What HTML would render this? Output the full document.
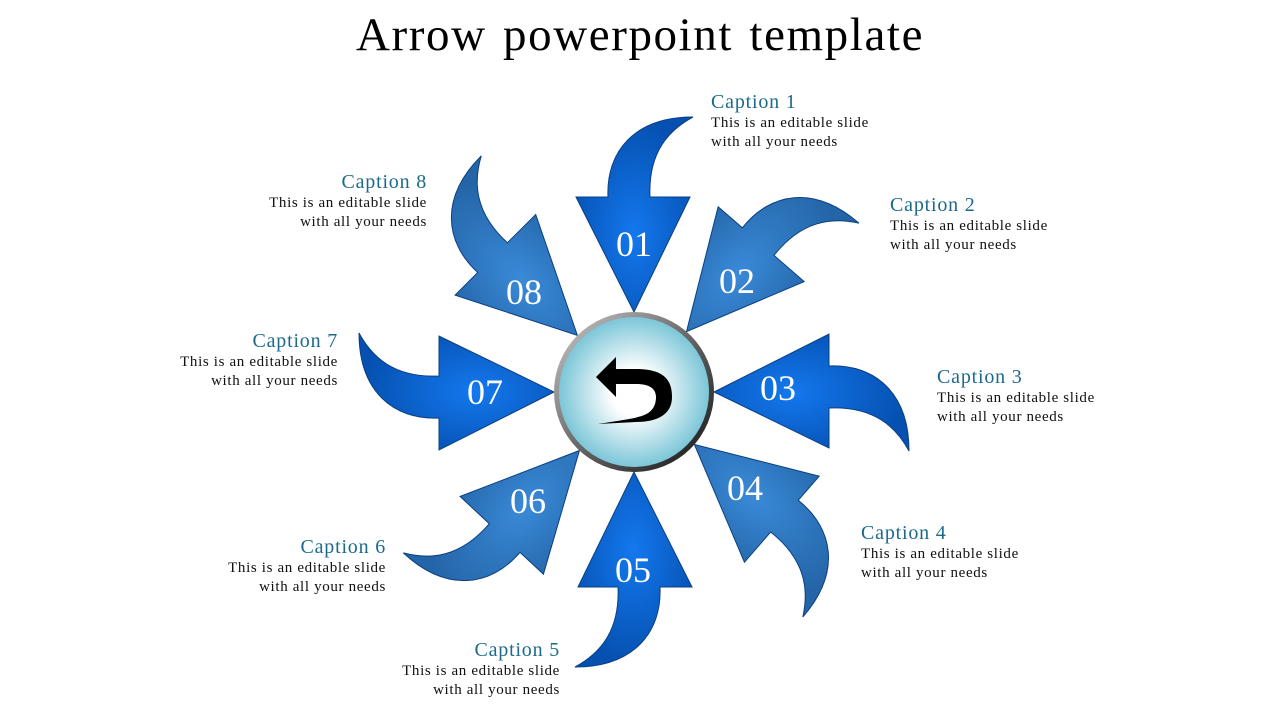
<!DOCTYPE html>
<html><head><meta charset="utf-8"><style>
body{margin:0;width:1280px;height:720px;background:#fff;overflow:hidden;position:relative;font-family:"Liberation Serif",serif}
.t{position:absolute;top:8px;width:1280px;text-align:center;font-size:47px;color:#000;letter-spacing:1.6px;word-spacing:3px}
.c{position:absolute;width:240px}
.c b{display:block;font-weight:normal;color:#1b6a8c;font-size:20px;line-height:24px;letter-spacing:0.8px}
.c span{display:block;font-size:15px;line-height:19px;color:#111;letter-spacing:0.65px}
.r{text-align:right}
</style></head><body>
<div class="t">Arrow powerpoint template</div>
<svg width="1280" height="720" style="position:absolute;left:0;top:0">
<defs>
<radialGradient id="ga" cx="0.5" cy="0.6" r="0.6"><stop offset="0" stop-color="#1478ee"/><stop offset="1" stop-color="#0550b0"/></radialGradient>
<radialGradient id="gb" cx="0.5" cy="0.6" r="0.6"><stop offset="0" stop-color="#3a8ad8"/><stop offset="1" stop-color="#2465a8"/></radialGradient>
<radialGradient id="gc" cx="0.5" cy="0.5" r="0.5"><stop offset="0.3" stop-color="#fff"/><stop offset="1" stop-color="#7cc6d8"/></radialGradient>
<linearGradient id="gr" x1="0" y1="0" x2="1" y2="1"><stop offset="0" stop-color="#ccc"/><stop offset="0.5" stop-color="#666"/><stop offset="1" stop-color="#111"/></linearGradient>
<path id="ar" d="M0,-80 L-58,-195 L-26,-195 C-28,-240 0,-275 59,-275 C35,-262 14,-240 16,-195 L56,-195 Z" stroke="#0b3f80" stroke-width="1"/>
</defs>
<g transform="translate(634,392)">
<use href="#ar" fill="url(#ga)"/>
<use href="#ar" fill="url(#gb)" transform="rotate(41)"/>
<use href="#ar" fill="url(#ga)" transform="rotate(90)"/>
<use href="#ar" fill="url(#gb)" transform="rotate(131)"/>
<use href="#ar" fill="url(#ga)" transform="rotate(180)"/>
<use href="#ar" fill="url(#gb)" transform="rotate(223)"/>
<use href="#ar" fill="url(#ga)" transform="rotate(270)"/>
<use href="#ar" fill="url(#gb)" transform="rotate(315)"/>
<circle r="80" fill="url(#gr)"/>
<circle r="75" fill="url(#gc)"/>
<path d="M-38,-15 L-18,-35 L-18,-23 L2,-23 C30,-23 38,-12 38,5 C38,22 24,30 2,30 L-36,32 C-10,28 2,26 4,25 C18,22 22,14 22,5 C22,-3 16,-8 2,-8 L-18,-8 L-18,5 Z" fill="#000"/>
</g>
<g fill="#fff" font-family="Liberation Serif,serif" font-size="36" text-anchor="middle">
<text x="634" y="256">01</text><text x="737" y="293">02</text><text x="778" y="400">03</text><text x="745" y="500">04</text>
<text x="633" y="582">05</text><text x="528" y="513">06</text><text x="485" y="404">07</text><text x="524" y="304">08</text>
</g>
</svg>
<div class="c" style="left:711px;top:90px"><b>Caption 1</b><span>This is an editable slide<br>with all your needs</span></div>
<div class="c" style="left:890px;top:193px"><b>Caption 2</b><span>This is an editable slide<br>with all your needs</span></div>
<div class="c" style="left:937px;top:365px"><b>Caption 3</b><span>This is an editable slide<br>with all your needs</span></div>
<div class="c" style="left:861px;top:521px"><b>Caption 4</b><span>This is an editable slide<br>with all your needs</span></div>
<div class="c r" style="left:320px;top:638px"><b>Caption 5</b><span>This is an editable slide<br>with all your needs</span></div>
<div class="c r" style="left:146px;top:535px"><b>Caption 6</b><span>This is an editable slide<br>with all your needs</span></div>
<div class="c r" style="left:98px;top:329px"><b>Caption 7</b><span>This is an editable slide<br>with all your needs</span></div>
<div class="c r" style="left:187px;top:170px"><b>Caption 8</b><span>This is an editable slide<br>with all your needs</span></div>
</body></html>
